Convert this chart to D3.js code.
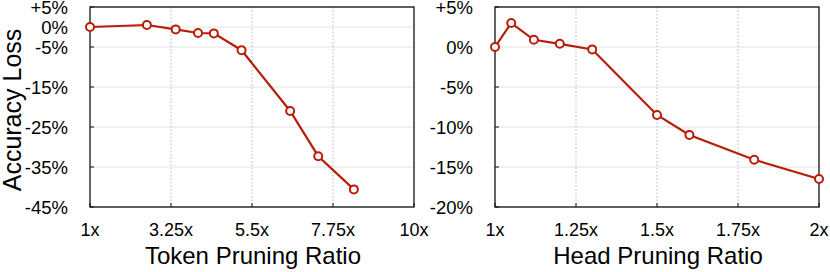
<!DOCTYPE html>
<html>
<head>
<meta charset="utf-8">
<script src="https://cdn.jsdelivr.net/npm/d3@7"></script>
<style>
  body { margin: 0; background: #fff; }
  svg { display: block; font-family: "Liberation Sans", Arial, sans-serif; }
</style>
</head>
<body>
<div id="chart"></div>
<script>
!(function () {
  // - - - - - - - - - -

  // token pruning (left)
  let tokenRatio = [1, 2.58, 3.38, 4.0, 4.44, 5.21, 6.56, 7.34, 8.33];
  let tokenLoss = [0, 0.5, -0.6, -1.5, -1.6, -5.8, -21, -32.3, -40.6];
  let tokenXTicks = [1, 3.25, 5.5, 7.75, 10];
  let tokenXLabels = ['1x', '3.25x', '5.5x', '7.75x', '10x'];
  let tokenYTicks = [5, 0, -5, -15, -25, -35, -45];
  let tokenYLabels = ['+5%', '0%', '-5%', '-15%', '-25%', '-35%', '-45%'];

  // head pruning (right)
  let headRatio = [1, 1.05, 1.12, 1.2, 1.3, 1.5, 1.6, 1.8, 2.0];
  let headLoss = [0, 3.0, 0.9, 0.4, -0.3, -8.5, -11.0, -14.1, -16.5];
  let headXTicks = [1, 1.25, 1.5, 1.75, 2];
  let headXLabels = ['1x', '1.25x', '1.5x', '1.75x', '2x'];
  let headYTicks = [5, 0, -5, -10, -15, -20];
  let headYLabels = ['+5%', '0%', '-5%', '-10%', '-15%', '-20%'];

  let
    width = 830,
    height = 272,
    red = '#b81d0a';

  let svg = d3.select('#chart')
    .append('svg')
    .attr('width', width)
    .attr('height', height);

  function panel(o) {
    let x = d3.scaleLinear().domain(o.xDomain).range([o.left, o.right]);
    let y = d3.scaleLinear().domain(o.yDomain).range([207, 7]);
    let g = svg.append('g');

    // horizontal grid
    g.selectAll('.hg')
      .data(o.yTicks)
      .enter()
      .append('line')
      .attr('x1', o.left).attr('x2', o.right)
      .attr('y1', d => y(d)).attr('y2', d => y(d))
      .style('stroke', '#e2e2e2')
      .style('stroke-width', 1);

    // vertical dotted grid
    g.selectAll('.vg')
      .data(o.xTicks.slice(1, -1))
      .enter()
      .append('line')
      .attr('x1', d => x(d)).attr('x2', d => x(d))
      .attr('y1', 7).attr('y2', 207)
      .style('stroke', '#b8b8b8')
      .style('stroke-width', 1)
      .style('stroke-dasharray', '1.5,2');

    // frame
    g.append('rect')
      .attr('x', o.left).attr('y', 7)
      .attr('width', o.right - o.left).attr('height', 200)
      .style('fill', 'none')
      .style('stroke', '#111')
      .style('stroke-width', 1.3);

    // y ticks
    g.selectAll('.yt')
      .data(o.yTicks)
      .enter()
      .append('line')
      .attr('x1', o.left).attr('x2', o.left + 4)
      .attr('y1', d => y(d)).attr('y2', d => y(d))
      .style('stroke', '#111');

    g.selectAll('.yl')
      .data(o.yTicks)
      .enter()
      .append('text')
      .attr('x', o.left - 22)
      .attr('y', d => y(d) + 6.5)
      .attr('text-anchor', 'end')
      .style('font-size', '18.5px')
      .text((d, i) => o.yLabels[i]);

    // x ticks
    g.selectAll('.xt')
      .data(o.xTicks)
      .enter()
      .append('line')
      .attr('x1', d => x(d)).attr('x2', d => x(d))
      .attr('y1', 207).attr('y2', 203)
      .style('stroke', '#111');

    g.selectAll('.xl')
      .data(o.xTicks)
      .enter()
      .append('text')
      .attr('x', d => x(d))
      .attr('y', 236)
      .attr('text-anchor', 'middle')
      .style('font-size', '18px')
      .text((d, i) => o.xLabels[i]);

    g.append('text')
      .attr('x', (o.left + o.right) / 2 + 1)
      .attr('y', 264)
      .attr('text-anchor', 'middle')
      .style('font-size', '24px')
      .text(o.title);

    let pts = o.xs.map((d, i) => [d, o.ys[i]]);

    g.append('path')
      .datum(pts)
      .attr('d', d3.line().x(d => x(d[0])).y(d => y(d[1])))
      .style('fill', 'none')
      .style('stroke', red)
      .style('stroke-width', 2.2);

    g.selectAll('.pt')
      .data(pts)
      .enter()
      .append('circle')
      .attr('cx', d => x(d[0]))
      .attr('cy', d => y(d[1]))
      .attr('r', 4)
      .style('fill', '#fff')
      .style('stroke', red)
      .style('stroke-width', 2);
  }

  panel({
    left: 90, right: 414,
    xDomain: [1, 10], yDomain: [-45, 5],
    xTicks: tokenXTicks, xLabels: tokenXLabels,
    yTicks: tokenYTicks, yLabels: tokenYLabels,
    xs: tokenRatio, ys: tokenLoss,
    title: 'Token Pruning Ratio'
  });

  panel({
    left: 495, right: 819,
    xDomain: [1, 2], yDomain: [-20, 5],
    xTicks: headXTicks, xLabels: headXLabels,
    yTicks: headYTicks, yLabels: headYLabels,
    xs: headRatio, ys: headLoss,
    title: 'Head Pruning Ratio'
  });

  svg.append('text')
    .attr('transform', 'translate(21,110) rotate(-90)')
    .attr('text-anchor', 'middle')
    .style('font-size', '25px')
    .text('Accuracy Loss');

  // - - - - - - - - - -
}());
</script>
</body>
</html>
